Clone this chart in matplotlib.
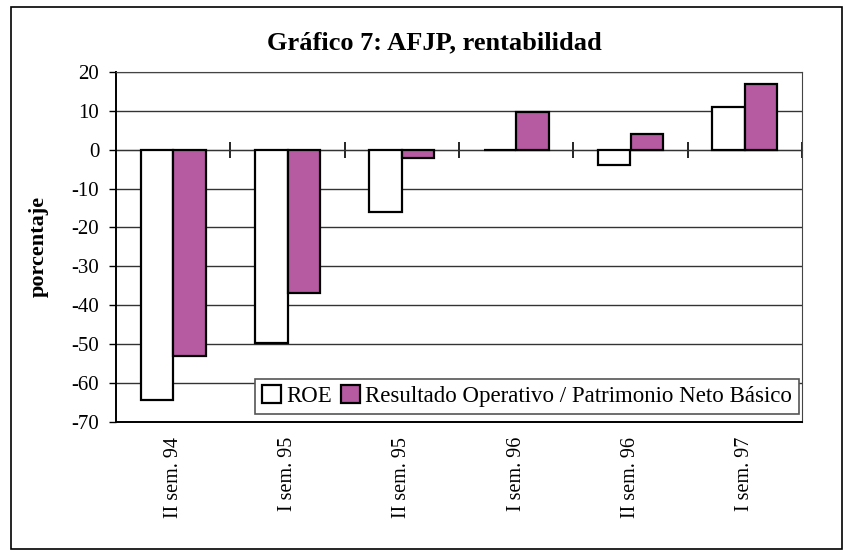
import matplotlib.pyplot as plt
import matplotlib.patches as patches
import numpy as np

# datos del grafico
semestres = ['II sem. 94', 'I sem. 95', 'II sem. 95', 'I sem. 96', 'II sem. 96', 'I sem. 97']
roe = [-64.5, -49.7, -16.1, 0, -4.0, 11.1]
resultado = [-53.2, -36.9, -2.1, 9.7, 4.0, 17.0]
yticks = [20, 10, 0, -10, -20, -30, -40, -50, -60, -70]

plt.rcParams['font.family'] = ['Liberation Serif', 'DejaVu Serif']

fig = plt.figure(figsize=(8.5, 5.54), dpi=100)
ax = fig.add_axes([116/850, 1-421.7/554, 686/850, 349.7/554])

x = np.arange(len(semestres))
w = 0.2857
ax.bar(x - w/2, roe, w, color='white', edgecolor='black', linewidth=1.6, label='ROE', zorder=3)
ax.bar(x + w/2, resultado, w, color='#B65AA1', edgecolor='black', linewidth=1.6,
       label='Resultado Operativo / Patrimonio Neto Básico', zorder=3)

ax.set_xlim(-0.5, len(semestres) - 0.5)
ax.set_ylim(-70, 20)
ax.set_yticks(yticks)
ax.set_yticklabels([str(v) for v in yticks])
ax.yaxis.grid(True, color='#333333', linewidth=1)
ax.set_axisbelow(True)
ax.tick_params(axis='y', length=5, width=1, pad=7, labelsize=15)

ax.set_xticks(x)
ax.set_xticklabels(semestres, rotation=90, fontsize=14.5)
ax.tick_params(axis='x', length=0, pad=11)

for s in ['top', 'right']:
    ax.spines[s].set_color('#444444')
for s in ['left', 'bottom']:
    ax.spines[s].set_color('black')
    ax.spines[s].set_linewidth(1.4)

# eje horizontal en cero con marcas entre categorias
zero_pos = (0 - (-70)) / 90
sec = ax.secondary_xaxis(zero_pos)
sec.set_xticks(np.arange(len(semestres)) + 0.5)
sec.set_xticklabels([])
sec.tick_params(direction='inout', length=11, width=1.2)
sec.spines['bottom'].set_linewidth(1.4)

leg = ax.legend(loc='lower right', bbox_to_anchor=(0.9956, 0.022), ncol=2, fontsize=16.5,
                handlelength=0.8, handleheight=0.8, handletextpad=0.25, columnspacing=0.4,
                borderpad=0.3, fancybox=False, shadow=False, framealpha=1, borderaxespad=0)
leg.get_frame().set_edgecolor('#555555')
leg.get_frame().set_linewidth(1.2)

fig.text(434/850, 1-43/554, 'Gráfico 7: AFJP, rentabilidad', ha='center', va='center',
         fontsize=19, fontweight='bold')
fig.text(39/850, 1-246/554, 'porcentaje', rotation=90, ha='center', va='center',
         fontsize=16, fontweight='bold')

fig.patches.append(patches.Rectangle((11/850, 1-549/554), 831/850, 542/554,
                                     transform=fig.transFigure, fill=False,
                                     edgecolor='black', linewidth=1.2))

fig.savefig('out.png', dpi=100)
